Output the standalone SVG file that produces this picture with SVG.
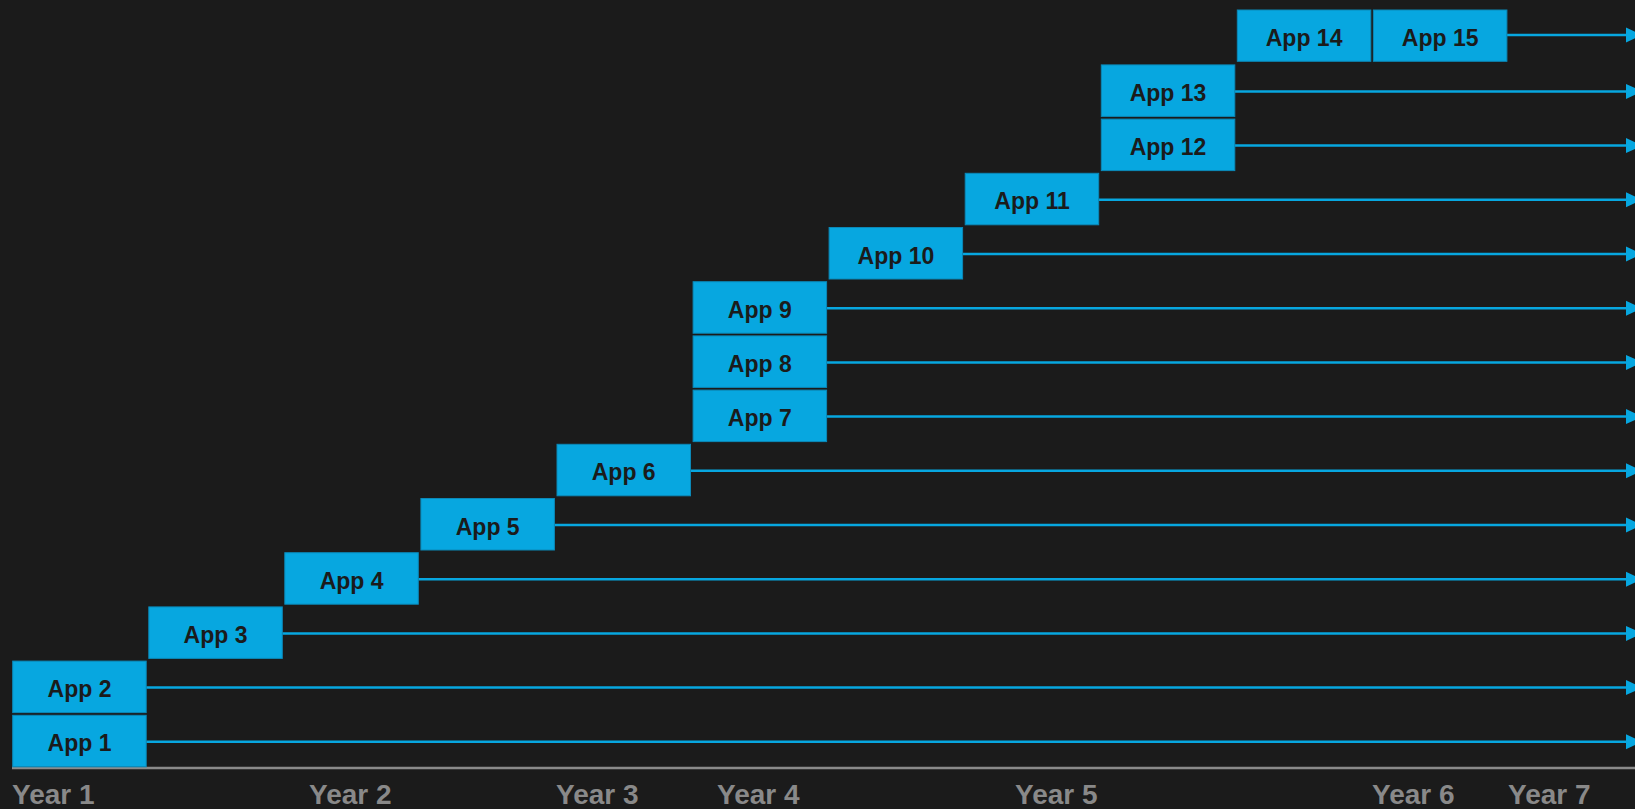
<svg xmlns="http://www.w3.org/2000/svg" width="1635" height="809" viewBox="0 0 1635 809">
  <style>
    .box { fill: #07a7e0; stroke: #0b89b8; stroke-width: 1; }
    .lbl { font-family: "Liberation Sans", Arial, sans-serif; font-weight: bold; font-size: 23px; fill: #1b1b1b; text-anchor: middle; }
    .wire { stroke: #07a7e0; stroke-width: 2.5; fill: none; }
    .year { font-family: "Liberation Sans", Arial, sans-serif; font-weight: bold; font-size: 28px; fill: #898989; }
  </style>
  <defs>
    <marker id="arrow" markerUnits="userSpaceOnUse" markerWidth="18" markerHeight="16" refX="0" refY="7.5" orient="auto" overflow="visible">
      <path d="M0,0 L16,7.5 L0,15 Z" fill="#07a7e0"/>
    </marker>
  </defs>
  <rect width="1635" height="809" fill="#1b1b1b"/>

  <!-- timeline arrows, one per app -->
  <g id="connectors">
    <line class="wire" x1="146.2" y1="741.8" x2="1626" y2="741.8" marker-end="url(#arrow)"/>
    <line class="wire" x1="146.2" y1="687.6" x2="1626" y2="687.6" marker-end="url(#arrow)"/>
    <line class="wire" x1="282.3" y1="633.4" x2="1626" y2="633.4" marker-end="url(#arrow)"/>
    <line class="wire" x1="418.3" y1="579.2" x2="1626" y2="579.2" marker-end="url(#arrow)"/>
    <line class="wire" x1="554.4" y1="525.0" x2="1626" y2="525.0" marker-end="url(#arrow)"/>
    <line class="wire" x1="690.5" y1="470.8" x2="1626" y2="470.8" marker-end="url(#arrow)"/>
    <line class="wire" x1="826.6" y1="416.6" x2="1626" y2="416.6" marker-end="url(#arrow)"/>
    <line class="wire" x1="826.6" y1="362.4" x2="1626" y2="362.4" marker-end="url(#arrow)"/>
    <line class="wire" x1="826.6" y1="308.2" x2="1626" y2="308.2" marker-end="url(#arrow)"/>
    <line class="wire" x1="962.6" y1="254.0" x2="1626" y2="254.0" marker-end="url(#arrow)"/>
    <line class="wire" x1="1098.7" y1="199.8" x2="1626" y2="199.8" marker-end="url(#arrow)"/>
    <line class="wire" x1="1234.8" y1="145.6" x2="1626" y2="145.6" marker-end="url(#arrow)"/>
    <line class="wire" x1="1234.8" y1="91.4" x2="1626" y2="91.4" marker-end="url(#arrow)"/>
    <line class="wire" x1="1506.9" y1="35.0" x2="1626" y2="35.0" marker-end="url(#arrow)"/>
  </g>

  <!-- axis -->
  <g id="axis">
    <line x1="12" y1="768" x2="1635" y2="768" stroke="#8a8a8a" stroke-width="2.5"/>
    <text class="year" x="12" y="804">Year 1</text>
    <text class="year" x="309" y="804">Year 2</text>
    <text class="year" x="556" y="804">Year 3</text>
    <text class="year" x="717" y="804">Year 4</text>
    <text class="year" x="1015" y="804">Year 5</text>
    <text class="year" x="1372" y="804">Year 6</text>
    <text class="year" x="1508" y="804">Year 7</text>
  </g>

  <g id="app1"><rect class="box" x="12.7" y="715.3" width="133.5" height="51.5"/><text class="lbl" x="79.5" y="751.3">App 1</text></g>
  <g id="app2"><rect class="box" x="12.7" y="661.1" width="133.5" height="51.5"/><text class="lbl" x="79.5" y="697.1">App 2</text></g>
  <g id="app3"><rect class="box" x="148.8" y="606.9" width="133.5" height="51.5"/><text class="lbl" x="215.5" y="642.9">App 3</text></g>
  <g id="app4"><rect class="box" x="284.8" y="552.7" width="133.5" height="51.5"/><text class="lbl" x="351.6" y="588.7">App 4</text></g>
  <g id="app5"><rect class="box" x="420.9" y="498.5" width="133.5" height="51.5"/><text class="lbl" x="487.7" y="534.5">App 5</text></g>
  <g id="app6"><rect class="box" x="557.0" y="444.3" width="133.5" height="51.5"/><text class="lbl" x="623.7" y="480.3">App 6</text></g>
  <g id="app7"><rect class="box" x="693.1" y="390.1" width="133.5" height="51.5"/><text class="lbl" x="759.8" y="426.1">App 7</text></g>
  <g id="app8"><rect class="box" x="693.1" y="335.9" width="133.5" height="51.5"/><text class="lbl" x="759.8" y="371.9">App 8</text></g>
  <g id="app9"><rect class="box" x="693.1" y="281.7" width="133.5" height="51.5"/><text class="lbl" x="759.8" y="317.7">App 9</text></g>
  <g id="app10"><rect class="box" x="829.1" y="227.5" width="133.5" height="51.5"/><text class="lbl" x="895.9" y="263.5">App 10</text></g>
  <g id="app11"><rect class="box" x="965.2" y="173.3" width="133.5" height="51.5"/><text class="lbl" x="1032" y="209.3">App 11</text></g>
  <g id="app12"><rect class="box" x="1101.3" y="119.1" width="133.5" height="51.5"/><text class="lbl" x="1168" y="155.1">App 12</text></g>
  <g id="app13"><rect class="box" x="1101.3" y="64.9" width="133.5" height="51.5"/><text class="lbl" x="1168" y="100.9">App 13</text></g>
  <g id="app14"><rect class="box" x="1237.3" y="10" width="133.5" height="51.3"/><text class="lbl" x="1304.1" y="45.8">App 14</text></g>
  <g id="app15"><rect class="box" x="1373.4" y="10" width="133.5" height="51.3"/><text class="lbl" x="1440.2" y="45.8">App 15</text></g>
</svg>
